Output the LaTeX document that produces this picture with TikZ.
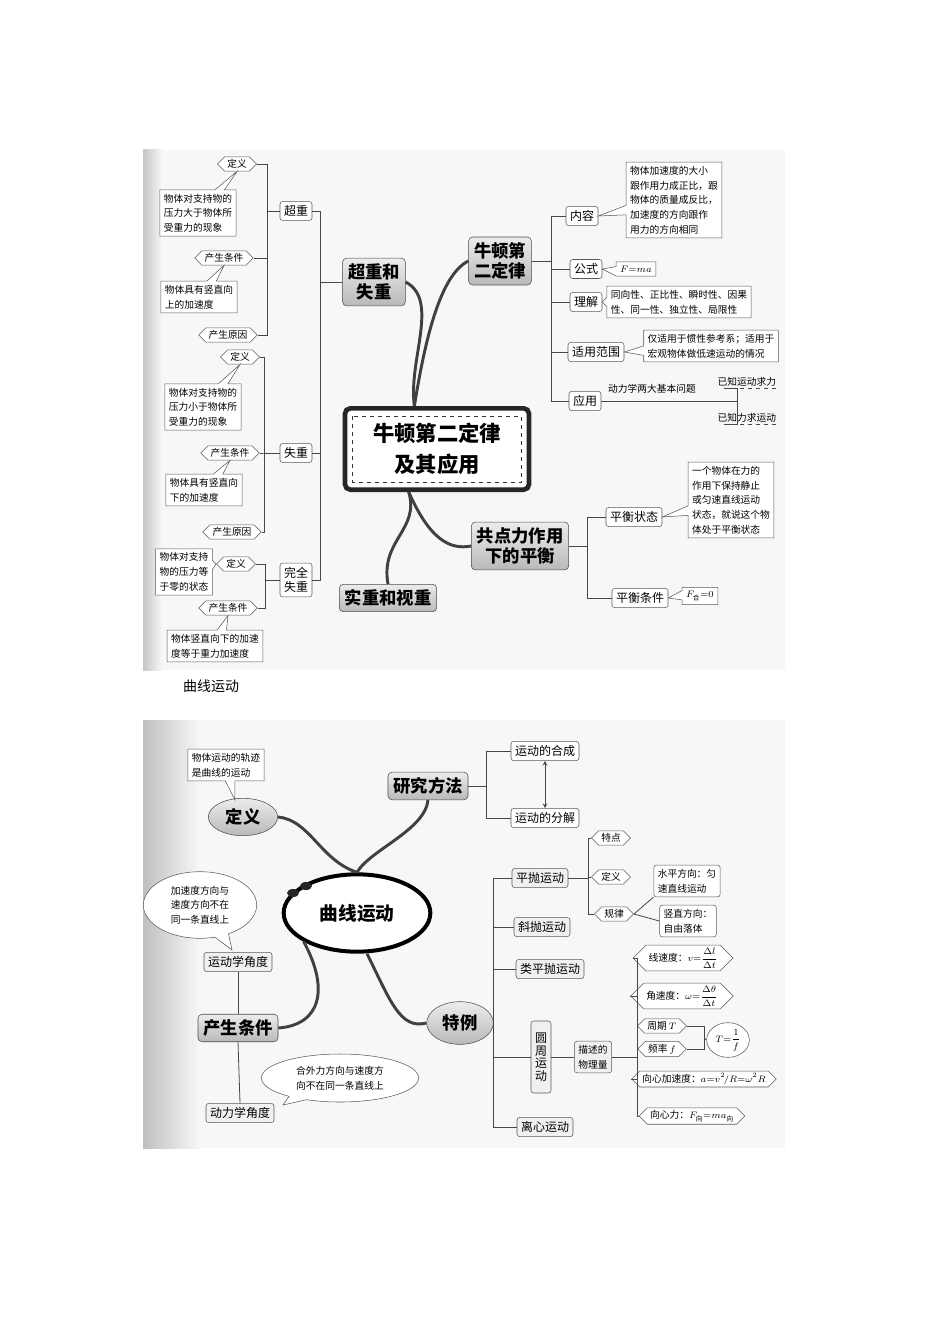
\documentclass[tikz,border=0pt]{standalone}
\usepackage{amsmath}
\usepackage{fontspec}
\setmainfont{Noto Sans CJK SC}
\usetikzlibrary{shapes.symbols,shapes.callouts,shapes.geometric,calc}
\newcommand\fsm{\fontsize{7.3}{11}\selectfont}
\newcommand\fmd{\fontsize{9}{11}\selectfont}
\newcommand\fbg{\fontsize{13}{15.5}\selectfont\bfseries}
\begin{document}
\begin{tikzpicture}[x=0.75pt,y=-0.75pt,
 lbox/.style={draw=gray!70!black,fill=white,rounded corners=2pt,font=\fmd,inner sep=3pt,align=center},
 gbox/.style={lbox,fill=gray!12},
 tbox/.style={draw=gray!70!black,fill=white,font=\fsm,align=left,inner sep=3pt},
 hexn/.style={signal,signal to=west and east,draw=gray!70!black,fill=white,font=\fsm,inner sep=2pt},
 bigb/.style={draw=gray!60!black,rounded corners=3pt,top color=gray!15,bottom color=gray!55,font=\fbg,align=center,inner sep=4pt},
 ln/.style={draw=gray!55!black,line width=0.6pt},
 cv/.style={draw=gray!50!black,line width=2.2pt},
 rcall/.style={rectangle callout,draw=gray!70!black,fill=white,font=\fsm,align=left,inner sep=3pt},
 ecall/.style={ellipse callout,draw=gray!70!black,fill=white,font=\fsm,align=center,inner sep=0pt}]
\useasboundingbox (0,0) rectangle (950,1344);
\fill[white] (0,0) rectangle (950,1344);
\fill[gray!6] (143,150) rectangle (785,670);
\shade[left color=gray!45,right color=gray!6] (143,150) rectangle (162,670);
\fill[gray!6] (143,720) rectangle (785,1148);
\shade[left color=gray!50,right color=gray!6] (143,720) rectangle (200,1148);
\node[font=\fontsize{10.5}{12}\selectfont] (cap) at (211,686) {曲线运动};
\node[hexn] (d1) at (237,164) {定义};
\node[rcall,callout absolute pointer={(d1.south)}] (t1) at (198,213) {物体对支持物的\\压力大于物体所\\受重力的现象};
\node[hexn] (c1) at (224,258) {产生条件};
\node[rcall,callout absolute pointer={(c1.south)}] (t2) at (199,297) {物体具有竖直向\\上的加速度};
\node[hexn] (r1) at (228,335) {产生原因};
\node[lbox] (cz) at (296,211) {超重};
\foreach \n in {d1,c1,r1} \draw[ln] (cz.west) -- ++(-12,0) |- (\n.east);
\node[hexn] (d2) at (240,357) {定义};
\node[rcall,callout absolute pointer={(d2.south)}] (t3) at (203,407) {物体对支持物的\\压力小于物体所\\受重力的现象};
\node[hexn] (c2) at (230,453) {产生条件};
\node[rcall,callout absolute pointer={(c2.south)}] (t4) at (204,490) {物体具有竖直向\\下的加速度};
\node[hexn] (r2) at (232,532) {产生原因};
\node[lbox] (sz) at (296,453) {失重};
\foreach \n in {d2,c2,r2} \draw[ln] (sz.west) -- ++(-15,0) |- (\n.east);
\node[hexn] (d3) at (236,564) {定义};
\node[rcall,callout absolute pointer={(d3.west)}] (t5) at (184,572) {物体对支持\\物的压力等\\于零的状态};
\node[hexn] (c3) at (228,608) {产生条件};
\node[rcall,callout absolute pointer={(c3.south)}] (t6) at (215,646) {物体竖直向下的加速\\度等于重力加速度};
\node[lbox] (wq) at (296,580) {完全\\失重};
\foreach \n in {d3,c3} \draw[ln] (wq.west) -- ++(-14,0) |- (\n.east);
\node[bigb] (ab) at (374,282) {超重和\\失重};
\foreach \n in {cz,sz,wq} \draw[ln] (ab.west) -- ++(-22,0) |- (\n.east);
\node[bigb] (sg) at (388,598) {实重和视重};
\node[draw=gray!30!black,line width=3.5pt,rounded corners=4pt,fill=white,minimum width=138pt,minimum height=61pt,align=center,font=\fontsize{16}{23}\selectfont\bfseries] (c) at (437,449) {牛顿第二定律\\及其应用};
\draw[dashed,gray!40!black] ($(c.north west)+(10,10)$) rectangle ($(c.south east)+(-10,-10)$);
\node[bigb] (nd) at (500,261) {牛顿第\\二定律};
\node[lbox] (nr) at (582,216) {内容};
\node[lbox] (gs) at (586,269) {公式};
\node[lbox] (lj) at (586,302) {理解};
\node[lbox] (fw) at (596,352) {适用范围};
\node[lbox] (yy) at (585,401) {应用};
\foreach \n in {nr,gs,lj,fw,yy} \draw[ln] (nd.east) -- ++(20,0) |- (\n.west);
\node[rcall,callout absolute pointer={(nr.east)}] (t7) at (674,200) {物体加速度的大小\\跟作用力成正比，跟\\物体的质量成反比，\\加速度的方向跟作\\用力的方向相同};
\node[rcall,callout absolute pointer={(gs.east)},font=\fsm\itshape] (t8) at (636,269) {$F{=}ma$};
\node[rcall,callout absolute pointer={(lj.east)}] (t9) at (679,302) {同向性、正比性、瞬时性、因果\\性、同一性、独立性、局限性};
\node[rcall,callout absolute pointer={(fw.east)}] (t10) at (711,346) {仅适用于惯性参考系；适用于\\宏观物体做低速运动的情况};
\node[font=\fsm] (q) at (652,389) {动力学两大基本问题};
\coordinate (qa) at (737,401);
\node[font=\fsm,anchor=south west,inner sep=1pt] (k1) at (716,388) {已知运动求力};
\node[font=\fsm,anchor=south west,inner sep=1pt] (k2) at (716,424) {已知力求运动};
\draw[ln] (yy.east) -- (qa);
\draw[ln] (qa) |- ($(k1.south west)+(8,0)$);
\draw[ln] (qa) |- ($(k2.south west)+(8,0)$);
\draw[ln,dashed] ($(k1.south west)+(8,0)$) -- (k1.south east);
\draw[ln,dashed] ($(k2.south west)+(8,0)$) -- (k2.south east);
\node[bigb] (gd) at (520,546) {共点力作用\\下的平衡};
\node[lbox] (ph) at (634,517) {平衡状态};
\node[lbox] (pt) at (640,598) {平衡条件};
\foreach \n in {ph,pt} \draw[ln] (gd.east) -- ++(18,0) |- (\n.west);
\node[rcall,callout absolute pointer={(ph.east)}] (t11) at (731,500) {一个物体在力的\\作用下保持静止\\或匀速直线运动\\状态，就说这个物\\体处于平衡状态};
\node[rcall,callout absolute pointer={(pt.east)}] (t12) at (700,596) {$F_{\mbox{\tiny 合}}{=}0$};
\draw[cv] ($(c.north west)!0.38!(c.north east)$) .. controls (408,360) and (440,300) .. (ab.east);
\draw[cv] ($(c.north west)!0.38!(c.north east)$) .. controls (425,340) and (440,275) .. (nd.west);
\draw[cv] ($(c.south west)!0.35!(c.south east)$) .. controls (420,530) and (380,540) .. (sg.north);
\draw[cv] ($(c.south west)!0.35!(c.south east)$) .. controls (430,540) and (450,550) .. (gd.west);
\node[bigb,ellipse,inner sep=2pt,minimum width=52pt,minimum height=28pt] (dy) at (243,817) {定义};
\node[rcall,callout absolute pointer={(235,800)}] (t13) at (226,765) {物体运动的轨迹\\是曲线的运动};
\node[bigb] (yf) at (428,786) {研究方法};
\node[lbox] (hc) at (545,751) {运动的合成};
\node[lbox] (fj) at (545,818) {运动的分解};
\foreach \n in {hc,fj} \draw[ln] (yf.east) -- ++(18,0) |- (\n.west);
\draw[ln,<->,>=stealth] (hc.south) -- (fj.north);
\node[ellipse,draw=black,line width=3pt,fill=white,minimum width=110pt,minimum height=58pt,font=\fontsize{14}{16}\selectfont\bfseries] (qx) at (357,913) {曲线运动};
\fill[gray!30!black] (293,893) ellipse (6 and 4);
\fill[gray!30!black] (306,886) ellipse (6 and 4);
\draw[cv] (dy.east) .. controls (310,820) and (320,860) .. (qx.north);
\draw[cv] (yf.south) .. controls (425,830) and (370,850) .. (qx.north);
\node[gbox] (yx) at (238,962) {运动学角度};
\node[ecall,callout absolute pointer={(232,950)},minimum width=85pt,minimum height=50pt] (b1) at (200,905) {加速度方向与\\速度方向不在\\同一条直线上};
\node[bigb] (cs) at (238,1028) {产生条件};
\node[gbox] (dx) at (240,1113) {动力学角度};
\draw[ln] (yx.south) -- (cs.north);
\draw[ln] (cs.south) -- (dx.north);
\node[ecall,callout absolute pointer={(283,1105)},minimum width=118pt,minimum height=36pt] (b2) at (340,1078) {合外力方向与速度方\\向不在同一条直线上};
\node[bigb,ellipse,inner sep=2pt,minimum width=50pt,minimum height=32pt] (tl) at (460,1023) {特例};
\draw[cv] (qx.south west) .. controls (330,990) and (320,1025) .. (cs.east);
\draw[cv] ($(qx.south)+(10,0)$) .. controls (390,1000) and (400,1030) .. (tl.west);
\node[gbox] (pp) at (540,878) {平抛运动};
\node[gbox] (xp) at (542,927) {斜抛运动};
\node[gbox] (lp) at (550,969) {类平抛运动};
\node[gbox,minimum height=54pt,font=\fmd\linespread{0.85}\selectfont] (yz) at (541,1057) {圆\\周\\运\\动};
\node[gbox] (lx) at (545,1127) {离心运动};
\foreach \n in {pp,xp,lp,yz,lx} \draw[ln] (\n.west) -| (tl.east);
\node[hexn] (td) at (611,838) {特点};
\node[hexn] (dy2) at (611,877) {定义};
\node[hexn] (gl) at (614,914) {规律};
\foreach \n in {td,dy2,gl} \draw[ln] (pp.east) -- ++(20,0) |- (\n.west);
\node[lbox,font=\fsm,align=left] (sp) at (687,881) {水平方向：匀\\速直线运动};
\node[lbox,font=\fsm,align=left] (sv) at (688,921) {竖直方向：\\自由落体};
\draw[ln] (gl.east) -- (sp.south west);
\draw[ln] (gl.east) -- (sv.west);
\node[gbox,font=\fsm] (ms) at (593,1057) {描述的\\物理量};
\draw[ln] (yz.east) -- (ms.west);
\coordinate (mc) at (637,1057);
\draw[ln] (ms.east) -- (mc);
\node[hexn] (v1) at (683,958) {线速度：$v{=}\dfrac{\Delta l}{\Delta t}$};
\node[hexn] (w1) at (682,996) {角速度：$\omega{=}\dfrac{\Delta\theta}{\Delta t}$};
\node[hexn] (zq) at (662,1026) {周期 $T$};
\node[hexn] (pl) at (662,1049) {频率 $f$};
\node[hexn] (ax) at (704,1079) {向心加速度：$a{=}v^2\!/R{=}\omega^2R$};
\node[hexn] (fx) at (692,1116) {向心力：$F_{\mbox{\tiny 向}}{=}ma_{\mbox{\tiny 向}}$};
\foreach \n in {v1,w1,zq,pl,ax,fx} \draw[ln] (\n.west) -| (mc);
\node[ellipse,draw=gray!70!black,fill=white,font=\fsm,inner sep=0pt,minimum width=32pt,minimum height=26pt] (tf) at (728,1040) {$T{=}\dfrac{1}{f}$};
\coordinate (tc) at (704,1038);
\draw[ln] (zq.east) -| (tc);
\draw[ln] (pl.east) -| (tc);
\draw[ln] (tc) -- (tf.west);
\end{tikzpicture}
\end{document}
